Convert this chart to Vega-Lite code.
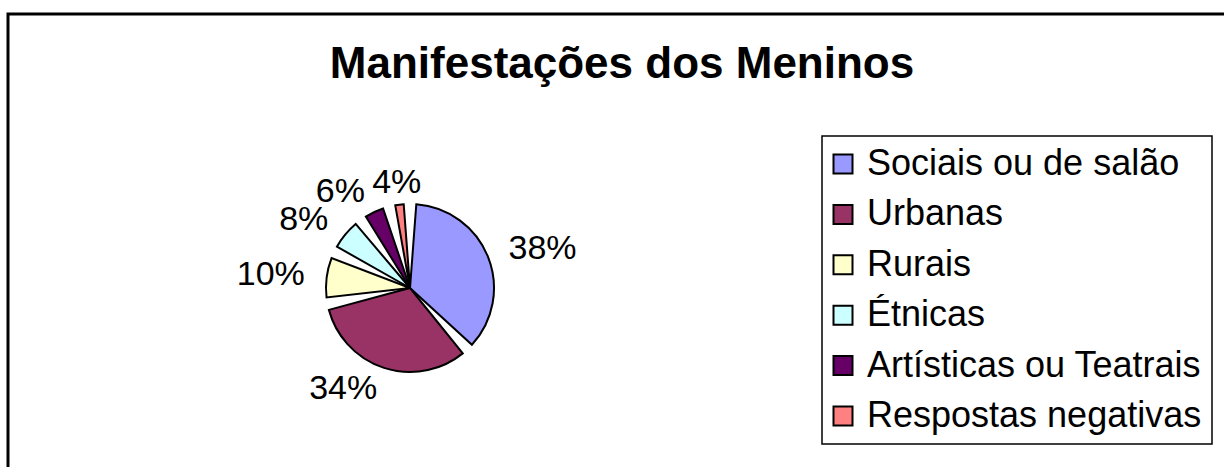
{
  "$schema": "https://vega.github.io/schema/vega-lite/v6.json",
  "width": 1240,
  "height": 480,
  "autosize": "none",
  "padding": {"left": 8, "top": 14, "right": 0, "bottom": 0},
  "background": "white",
  "title": {
    "text": "Manifestações dos Meninos",
    "font": "Liberation Sans",
    "fontSize": 44,
    "fontWeight": "bold",
    "color": "black",
    "anchor": "middle",
    "frame": "group",
    "orient": "top",
    "offset": -64,
    "baseline": "alphabetic",
    "dx": -6,
    "dy": 45
  },
  "data": {
    "values": [
      {"categoria": "Sociais ou de salão", "valor": 0.38, "ordem": 1},
      {"categoria": "Urbanas", "valor": 0.34, "ordem": 2},
      {"categoria": "Rurais", "valor": 0.10, "ordem": 3},
      {"categoria": "\u00a0Étnicas", "valor": 0.08, "ordem": 4},
      {"categoria": "\u00a0Artísticas ou Teatrais", "valor": 0.06, "ordem": 5},
      {"categoria": "Respostas negativas", "valor": 0.04, "ordem": 6}
    ]
  },
  "layer": [
    {
      "data": {"values": [{"moldura": 1}]},
      "mark": {"type": "rect", "x": 0, "y": 0, "x2": "width", "y2": "height", "fill": "white", "stroke": "black", "strokeWidth": 3}
    },
    {
      "mark": {"type": "arc", "outerRadius": 84, "padAngle": 0.15, "stroke": "black", "strokeWidth": 2, "x": 402, "y": 274},
      "encoding": {
        "theta": {"field": "valor", "type": "quantitative", "stack": true},
        "order": {"field": "ordem", "type": "quantitative"},
        "color": {
          "field": "categoria",
          "type": "nominal",
          "sort": ["Sociais ou de salão", "Urbanas", "Rurais", "\u00a0Étnicas", "\u00a0Artísticas ou Teatrais", "Respostas negativas"],
          "scale": {
            "domain": ["Sociais ou de salão", "Urbanas", "Rurais", "\u00a0Étnicas", "\u00a0Artísticas ou Teatrais", "Respostas negativas"],
            "range": ["#9999FF", "#993366", "#FFFFCC", "#CCFFFF", "#660066", "#FF8080"]
          },
          "legend": {
            "title": null,
            "orient": "none",
            "legendX": 814,
            "legendY": 122,
            "symbolType": "square",
            "symbolSize": 361,
            "symbolStrokeColor": "black",
            "symbolStrokeWidth": 2,
            "symbolOpacity": 1,
            "symbolOffset": -7,
            "labelFont": "Liberation Sans",
            "labelFontSize": 36,
            "labelColor": "black",
            "labelLimit": 800,
            "labelOffset": 6,
            "rowPadding": 14.4,
            "padding": 10,
            "strokeColor": "black",
            "fillColor": "white",
            "encode": {"legend": {"update": {"strokeWidth": {"value": 1.5}}}}
          }
        }
      }
    },
    {
      "mark": {
        "type": "text",
        "radius": 106,
        "font": "Liberation Sans",
        "fontSize": 34,
        "color": "black",
        "x": 402,
        "y": 274,
        "align": {"expr": "datum.ordem == 1 ? 'left' : (datum.ordem == 6 ? 'center' : 'right')"}
      },
      "encoding": {
        "theta": {"field": "valor", "type": "quantitative", "stack": true},
        "order": {"field": "ordem", "type": "quantitative"},
        "detail": {"field": "categoria", "type": "nominal"},
        "text": {"field": "valor", "type": "quantitative", "format": ".0%"}
      }
    }
  ]
}
